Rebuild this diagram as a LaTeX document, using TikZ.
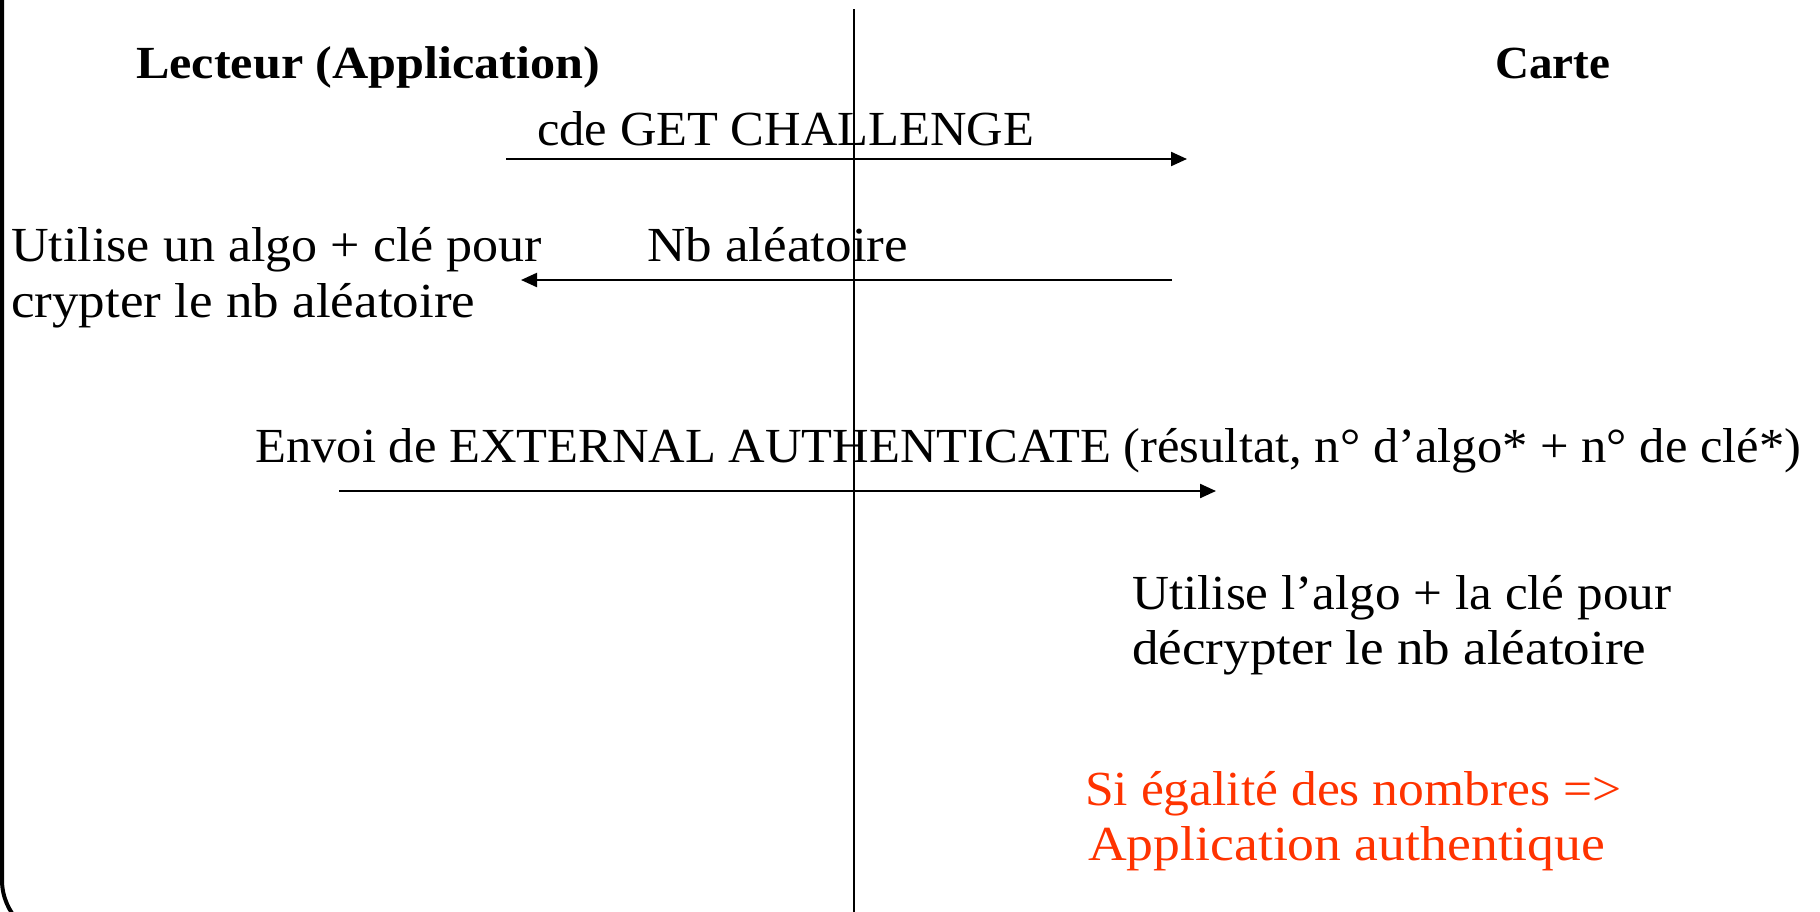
\documentclass[tikz,border=0pt]{standalone}
\usepackage{fontspec}
\setmainfont{Liberation Serif}
\usepackage{graphicx}
\usetikzlibrary{arrows.meta}
\definecolor{alertred}{RGB}{255,51,0}
% set a line of text to a given width, keeping its height
\newcommand{\fitw}[2]{\resizebox{#1}{\height}{#2}}
\tikzset{
  lbl/.style={inner sep=0pt, anchor=base west, font=\fontsize{49}{58}\selectfont},
  hdr/.style={inner sep=0pt, anchor=base west, font=\fontsize{46}{54}\selectfont\bfseries},
  msg/.style={line width=2.2pt, -{Triangle[length=16pt,width=14pt]}},
  lifeline/.style={line width=1.8pt},
  frameline/.style={line width=4pt, rounded corners=60pt},
}
\begin{document}
\begin{tikzpicture}[x=1pt,y=-1pt]
\useasboundingbox (0,0) rectangle (1820,911);

% frame edge on the left
\coordinate (ftop) at (2,-20);
\coordinate (fcorner) at (2,940);
\coordinate (fright) at (300,940);
\draw[frameline] (ftop) -- (fcorner) -- (fright);

% separation line between the two parties
\coordinate (lt) at (854,9);
\coordinate (lb) at (854,930);
\draw[lifeline] (lt) -- (lb);

% headings
\node[hdr] (reader) at (136,78) {\fitw{464pt}{Lecteur (Application)}};
\node[hdr] (card) at (1495,78) {\fitw{115pt}{Carte}};

% messages
\node[lbl] (getc) at (537,145) {\fitw{497pt}{cde GET CHALLENGE}};
\coordinate (m1s) at (506,159);
\coordinate (m1e) at (1187,159);
\draw[msg] (m1s) -- (m1e);

\node[lbl] (nb) at (647,261) {\fitw{261pt}{Nb aléatoire}};
\coordinate (m2s) at (1172,280);
\coordinate (m2e) at (521,280);
\draw[msg] (m2s) -- (m2e);

\node[lbl] (enc1) at (11,261) {\fitw{531pt}{Utilise un algo + clé pour}};
\node[lbl] (enc2) at (11,317) {\fitw{464pt}{crypter le nb aléatoire}};

\node[lbl] (ext) at (255,462) {\fitw{1546pt}{Envoi de EXTERNAL AUTHENTICATE (résultat, n° d’algo* + n° de clé*)}};
\coordinate (m3s) at (339,491);
\coordinate (m3e) at (1216,491);
\draw[msg] (m3s) -- (m3e);

% card side processing
\node[lbl] (dec1) at (1132,609) {\fitw{539pt}{Utilise l’algo + la clé pour}};
\node[lbl] (dec2) at (1132,664) {\fitw{514pt}{décrypter le nb aléatoire}};

\node[lbl, text=alertred] (eq1) at (1085,805) {\fitw{536pt}{Si égalité des nombres =>}};
\node[lbl, text=alertred] (eq2) at (1088,860) {\fitw{517pt}{Application authentique}};
\end{tikzpicture}
\end{document}
